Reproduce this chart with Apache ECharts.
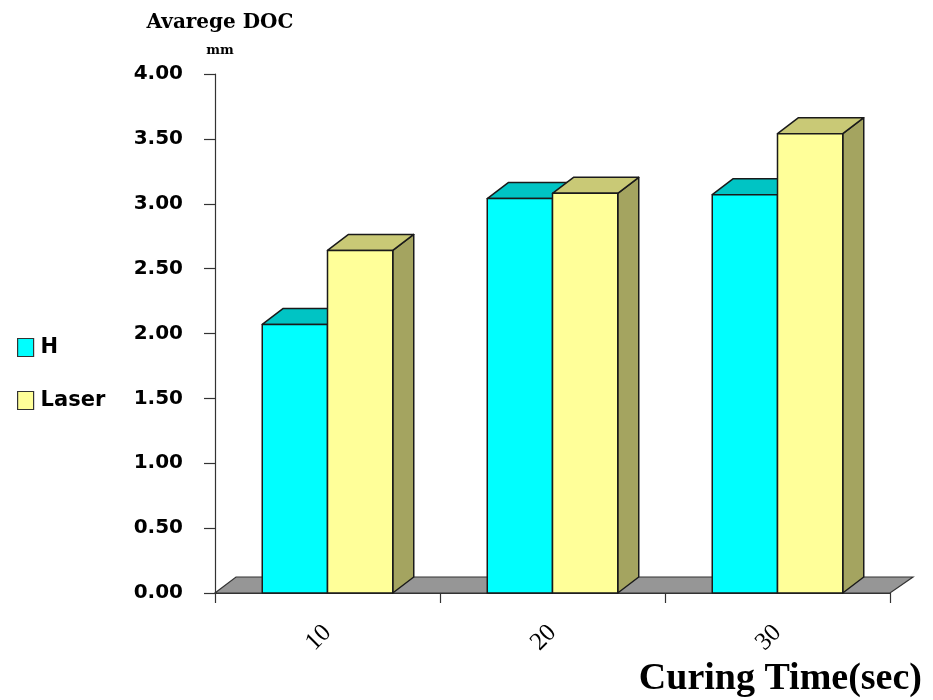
<!DOCTYPE html>
<html>
<head>
<meta charset="utf-8">
<script src="https://cdn.jsdelivr.net/npm/echarts@6/dist/echarts.min.js"></script>
<style>html,body{margin:0;padding:0;background:#fff;}#chart{width:933px;height:700px;}</style>
</head>
<body>
<div id="chart"></div>
<script>
const categories = ['10', '20', '30'];
const hValues = [2.07, 3.04, 3.07];
const laserValues = [2.64, 3.08, 3.54];
const yTicks = [0, 0.5, 1, 1.5, 2, 2.5, 3, 3.5, 4];

const DX = 21, DY = 16;
const STROKE = '#1a1a1a';

function barRenderer(slot, colors) {
  return function (params, api) {
    const cat = api.value(0), v = api.value(1);
    const base = api.coord([cat, 0]);
    const top = api.coord([cat, v]);
    const band = api.size([1, 0])[0];
    const bw = band * 0.29;
    const x0 = base[0] + (slot === 0 ? -bw : 0);
    const x1 = x0 + bw;
    const yb = base[1], yt = top[1];
    const style = (c) => ({ fill: c, stroke: STROKE, lineWidth: 1.5, lineJoin: 'round' });
    return {
      type: 'group',
      children: [
        { type: 'polygon', shape: { points: [[x1, yt], [x1 + DX, yt - DY], [x1 + DX, yb - DY], [x1, yb]] }, style: style(colors.side) },
        { type: 'polygon', shape: { points: [[x0, yt], [x1, yt], [x1 + DX, yt - DY], [x0 + DX, yt - DY]] }, style: style(colors.top) },
        { type: 'rect', shape: { x: x0, y: yt, width: bw, height: yb - yt }, style: style(colors.front) }
      ]
    };
  };
}

function floorRenderer(params, api) {
  const cs = params.coordSys;
  const y0 = api.coord([0, 0])[1];
  const xl = cs.x, xr = cs.x + cs.width;
  return {
    type: 'polygon',
    shape: { points: [[xl, y0], [xr, y0], [xr + DX + 2, y0 - DY], [xl + DX, y0 - DY]] },
    style: { fill: '#969696', stroke: '#333', lineWidth: 1.2 }
  };
}

const chart = echarts.init(document.getElementById('chart'));
chart.setOption({
  animation: false,
  backgroundColor: '#fff',
  title: {
    text: 'Curing Time(sec)',
    right: 6,
    top: 655,
    textStyle: { fontFamily: 'Liberation Serif', fontWeight: 'bold', fontSize: 38, color: '#000' }
  },
  legend: {
    orient: 'vertical',
    left: 12,
    top: 332,
    itemGap: 32,
    itemWidth: 16,
    itemHeight: 18,
    icon: 'rect',
    data: ['H', 'Laser'],
    itemStyle: { borderColor: '#333', borderWidth: 1.2 },
    textStyle: { fontFamily: 'DejaVu Sans', fontWeight: 'bold', fontSize: 21, color: '#000', padding: [0, 0, 0, 2] }
  },
  grid: { left: 215, right: 43, top: 74, bottom: 107, containLabel: false },
  xAxis: {
    type: 'category',
    data: categories,
    boundaryGap: true,
    axisLine: { show: true, lineStyle: { color: '#333', width: 1.2 } },
    axisTick: { show: true, length: 10, lineStyle: { color: '#333', width: 1.2 } },
    axisLabel: {
      rotate: 45, margin: 36,
      fontFamily: 'Liberation Serif', fontSize: 25, color: '#000'
    },
    splitLine: { show: false }
  },
  yAxis: {
    type: 'value',
    min: 0, max: 4, interval: 0.5,
    name: '{a|Avarege DOC}\n{b|mm}',
    nameLocation: 'end',
    nameGap: 16,
    nameTextStyle: {
      align: 'center',
      padding: [0, 0, 0, 10],
      rich: {
        a: { fontFamily: 'DejaVu Serif', fontWeight: 'bold', fontSize: 20, color: '#000', lineHeight: 42 },
        b: { fontFamily: 'DejaVu Serif', fontWeight: 'bold', fontSize: 13, color: '#000', lineHeight: 14 }
      }
    },
    axisLine: { show: true, lineStyle: { color: '#333', width: 1.2 } },
    axisTick: { show: true, length: 11, lineStyle: { color: '#333', width: 1.2 } },
    axisLabel: {
      margin: 32,
      formatter: (v) => v.toFixed(2),
      fontFamily: 'DejaVu Sans', fontWeight: 'bold', fontSize: 20, color: '#000'
    },
    splitLine: { show: false }
  },
  series: [
    {
      name: 'floor', type: 'custom', silent: true, z: 1,
      data: [[0, 0]],
      renderItem: floorRenderer
    },
    {
      name: 'H', type: 'custom', z: 2,
      itemStyle: { color: '#00FFFF' },
      data: categories.map((c, i) => [i, hValues[i]]),
      renderItem: barRenderer(0, { front: '#00FFFF', top: '#00C4C4', side: '#009A9A' })
    },
    {
      name: 'Laser', type: 'custom', z: 3,
      itemStyle: { color: '#FFFF99' },
      data: categories.map((c, i) => [i, laserValues[i]]),
      renderItem: barRenderer(1, { front: '#FFFF99', top: '#C9C976', side: '#A4A460' })
    }
  ]
});
</script>
</body>
</html>
